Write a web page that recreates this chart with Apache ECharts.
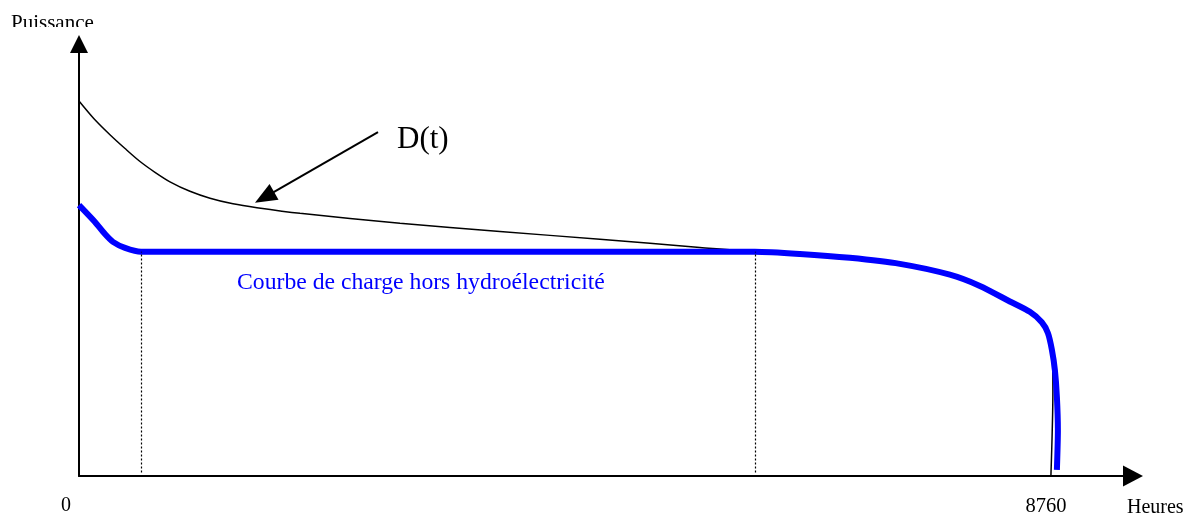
<!DOCTYPE html>
<html>
<head>
<meta charset="utf-8">
<script src="https://cdn.jsdelivr.net/npm/echarts@6/dist/echarts.min.js"></script>
<style>
  html, body { margin: 0; padding: 0; background: #fff; }
  #main { width: 1198px; height: 518px; }
</style>
</head>
<body>
<div id="main"></div>
<script>
// heures de l'année, et puissance en unités arbitraires (0..100)
var xTicks = [0, 8760];
var xMax = 9500;
var yMax = 100;

// D(t) : monotone décroissante
var demandHours = [0, 135, 279, 415, 550, 685, 820, 1000, 1181, 1388, 1604, 1992, 2893, 3794, 4695, 5596, 6092,
  6498, 6948, 7399, 7849, 8120, 8390, 8570, 8678, 8733, 8769, 8778, 8760];
var demandPower = [86.8, 82.7, 79.0, 75.8, 72.8, 70.3, 68.1, 65.9, 64.3, 63.0, 62.1, 60.8, 58.5, 56.6, 54.8, 52.9, 51.9,
  51.4, 50.5, 49.1, 46.6, 44.0, 40.4, 38.0, 35.6, 33.1, 29.2, 19.9, 0];

// courbe de charge hors hydroélectricité
var chargeHours = [0, 144, 234, 306, 415, 559, 6092,
  6498, 6948, 7399, 7849, 8120, 8390, 8570, 8678, 8733, 8769, 8796, 8814, 8823, 8814];
var chargePower = [62.7, 58.8, 56.0, 54.2, 52.8, 51.9, 51.9,
  51.4, 50.5, 49.1, 46.6, 44.0, 40.4, 38.0, 35.6, 33.1, 29.2, 24.5, 18.3, 10.6, 1.4];

// limites du palier (pointillés)
var plateauBounds = [559, 6092];
var plateauLevel = 51.9;

// flèche d'annotation vers D(t)
var arrowFrom = [2695, 79.6];
var arrowTo = [1672, 64.5];

function pairs(xs, ys) {
  return xs.map(function (x, i) { return [x, ys[i]]; });
}

var serif = "'Liberation Serif', 'DejaVu Serif', serif";
var myChart = echarts.init(document.getElementById("main"));

var option = {
  animation: false,
  grid: { left: 79, right: 65, top: 44, bottom: 42 },
  xAxis: {
    type: "value",
    min: 0,
    max: xMax,
    axisLine: {
      show: true,
      symbol: ["none", "triangle"],
      symbolSize: [21, 20],
      lineStyle: { color: "#000", width: 2 },
    },
    axisTick: { show: false },
    splitLine: { show: false },
    axisLabel: {
      show: true,
      customValues: xTicks,
      margin: 20,
      color: "#000",
      fontFamily: serif,
      fontSize: 20,
      formatter: function (v) {
        return v === 0 ? "{z|0}" : "{n|" + v + "}";
      },
      rich: {
        z: { fontFamily: serif, fontSize: 20, color: "#000", padding: [0, 26, 0, 0] },
        n: { fontFamily: serif, fontSize: 20.5, color: "#000", padding: [0, 10, 0, 0] },
      },
    },
  },
  yAxis: {
    type: "value",
    min: 0,
    max: yMax,
    axisLine: {
      show: true,
      symbol: ["none", "triangle"],
      symbolSize: [18, 18],
      lineStyle: { color: "#000", width: 2 },
    },
    axisTick: { show: false },
    splitLine: { show: false },
    axisLabel: { show: false },
  },
  series: [
    {
      name: "D(t)",
      type: "line",
      data: pairs(demandHours, demandPower),
      smooth: 0.3,
      showSymbol: false,
      lineStyle: { color: "#000", width: 1.5 },
      z: 2,
      markLine: {
        silent: true,
        symbol: ["none", "triangle"],
        symbolSize: [18, 22],
        label: { show: false },
        lineStyle: { color: "#000", width: 2, type: "solid" },
        data: [[{ coord: arrowFrom }, { coord: arrowTo }]],
      },
    },
    {
      name: "Courbe de charge hors hydroélectricité",
      type: "line",
      data: pairs(chargeHours, chargePower),
      smooth: 0.25,
      showSymbol: false,
      lineStyle: { color: "#0000ff", width: 6 },
      z: 3,
      markLine: {
        silent: true,
        symbol: "none",
        label: { show: false },
        lineStyle: { color: "#000", width: 1.2, type: [2, 2] },
        data: plateauBounds.map(function (x) {
          return [{ coord: [x, 0.8] }, { coord: [x, plateauLevel] }];
        }),
      },
    },
  ],
  graphic: [
    {
      type: "text",
      left: 11,
      top: 13,
      style: { text: "Puissance", font: "21px " + serif, fill: "#000" },
    },
    {
      type: "rect",
      shape: { x: 0, y: 27, width: 110, height: 6 },
      style: { fill: "#fff" },
      z: 100,
    },
    {
      type: "text",
      left: 397,
      top: 124,
      style: { text: "D(t)", font: "31px " + serif, fill: "#000" },
    },
    {
      type: "text",
      left: 237,
      top: 271,
      style: { text: "Courbe de charge hors hydroélectricité", font: "23.7px " + serif, fill: "#0000ff" },
    },
    {
      type: "text",
      left: 1127,
      top: 498,
      style: { text: "Heures", font: "20px " + serif, fill: "#000" },
    },
  ],
};

myChart.setOption(option);
</script>
</body>
</html>
